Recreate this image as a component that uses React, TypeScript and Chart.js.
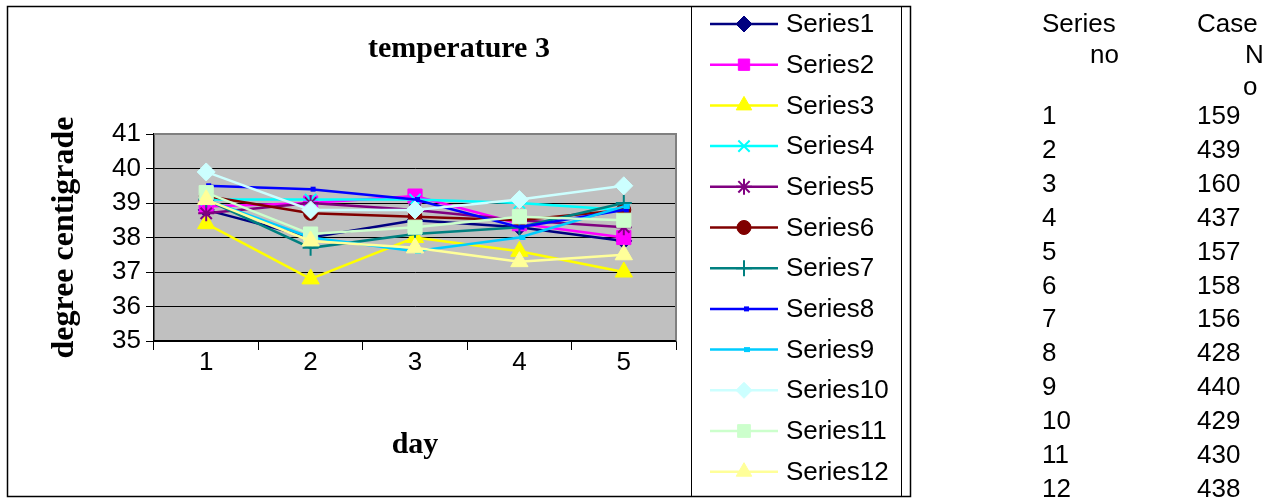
import React, { useEffect, useRef } from "react";
import { Chart, registerables } from "chart.js";
import { drawPoint } from "chart.js/helpers";

Chart.register(...registerables);

// ---------- data ----------
const days = ["1", "2", "3", "4", "5"];
const seriesNames = [
  "Series1", "Series2", "Series3", "Series4", "Series5", "Series6",
  "Series7", "Series8", "Series9", "Series10", "Series11", "Series12",
];
const series1 = [38.8, 38.0, 38.5, 38.3, 37.9];
const series2 = [38.9, 39.0, 39.2, 38.4, 38.0];
const series3 = [38.4, 36.8, 38.0, 37.6, 37.0];
const series4 = [39.1, 39.1, 39.1, 39.0, 38.8];
const series5 = [38.7, 39.0, 38.8, 38.5, 38.3];
const series6 = [39.2, 38.7, 38.6, 38.5, 38.8];
const series7 = [39.1, 37.7, 38.1, 38.3, 39.0];
const series8 = [39.5, 39.4, 39.1, 38.3, 38.8];
const series9 = [39.1, 38.0, 37.6, 38.0, 38.9];
const series10 = [39.9, 38.8, 38.8, 39.1, 39.5];
const series11 = [39.3, 38.1, 38.3, 38.6, 38.5];
const series12 = [39.1, 37.9, 37.7, 37.3, 37.5];
const allSeries = [
  series1, series2, series3, series4, series5, series6,
  series7, series8, series9, series10, series11, series12,
];
const yMin = 35;
const yMax = 41;
const yStep = 1;

const chartTitle = "temperature 3";
const xTitle = "day";
const yTitle = "degree centigrade";

const tableHeadSeries = ["Series", "no"];
const tableHeadCase = ["Case", "N", "o"];
const tableSeriesNo = ["1", "2", "3", "4", "5", "6", "7", "8", "9", "10", "11", "12"];
const tableCaseNo = ["159", "439", "160", "437", "157", "158", "156", "428", "440", "429", "430", "438"];

// ---------- styles ----------
const colors = [
  "#000080", "#FF00FF", "#FFFF00", "#00FFFF", "#800080", "#800000",
  "#008080", "#0000FF", "#00CCFF", "#CCFFFF", "#CCFFCC", "#FFFF99",
];
const markers: any[] = [
  "rectRot", "rect", "triangle", "crossRot", "star", "circle",
  "cross", "dash", "dash", "rectRot", "rect", "triangle",
];
const markerRadius = [8, 10, 10, 8, 8, 7, 8, 5, 6, 9, 10, 10];
const markerBorder = [1, 1, 1, 2, 2, 1, 2, 5, 5, 1, 1, 1];
const legendRadius = [8, 8, 9, 8, 8, 7, 8, 5, 6, 8, 9, 9];
const legendBorder = [1, 1, 1, 2, 2, 1, 2, 5, 5, 1, 1, 1];

const SANS = "'Liberation Sans', Arial, sans-serif";
const SERIF = "'Liberation Serif', 'Times New Roman', serif";

const W = 1277;
const H = 502;
const PLOT_L = 154;
const PLOT_R = 676;
const PLOT_T = 134;
const PLOT_B = 341;
const PAD_B = 31;

const framePlugin = {
  id: "excelFrame",
  beforeDraw(chart: any) {
    const { ctx, chartArea: a } = chart;
    ctx.save();
    ctx.fillStyle = "#FFFFFF";
    ctx.fillRect(0, 0, chart.width, chart.height);
    // outer chart frame
    ctx.strokeStyle = "#000000";
    ctx.lineWidth = 1.5;
    ctx.strokeRect(7.5, 6.5, 903, 490);
    // legend frame
    ctx.lineWidth = 1;
    ctx.strokeRect(691.5, 6.5, 210, 490);
    // plot background
    ctx.fillStyle = "#C0C0C0";
    ctx.fillRect(a.left, a.top, a.right - a.left, a.bottom - a.top);
    ctx.restore();
  },
  beforeDatasetsDraw(chart: any) {
    const { ctx, chartArea: a } = chart;
    ctx.save();
    ctx.strokeStyle = "#808080";
    ctx.lineWidth = 2;
    ctx.beginPath();
    ctx.moveTo(a.left, a.top);
    ctx.lineTo(a.right, a.top);
    ctx.lineTo(a.right, a.bottom);
    ctx.stroke();
    ctx.strokeStyle = "#000000";
    ctx.lineWidth = 1.5;
    ctx.beginPath();
    ctx.moveTo(a.left, a.bottom);
    ctx.lineTo(a.right, a.bottom);
    ctx.stroke();
    ctx.restore();
  },
  afterDraw(chart: any) {
    const { ctx } = chart;
    ctx.save();
    // chart title
    ctx.fillStyle = "#000000";
    ctx.font = `bold 30px ${SERIF}`;
    ctx.textAlign = "center";
    ctx.textBaseline = "alphabetic";
    ctx.fillText(chartTitle, 459, 57);
    // legend
    ctx.textAlign = "left";
    ctx.textBaseline = "middle";
    ctx.font = `26px ${SANS}`;
    for (let i = 0; i < seriesNames.length; i++) {
      const y = 24 + i * 40.7;
      ctx.strokeStyle = colors[i];
      ctx.fillStyle = colors[i];
      ctx.lineWidth = 2.5;
      ctx.beginPath();
      ctx.moveTo(710, y);
      ctx.lineTo(778, y);
      ctx.stroke();
      ctx.lineWidth = legendBorder[i];
      drawPoint(ctx, {
        pointStyle: markers[i],
        radius: legendRadius[i],
        borderWidth: legendBorder[i],
        rotation: 0,
      } as any, 744, y);
      ctx.fillStyle = "#000000";
      ctx.fillText(seriesNames[i], 786, y + 1);
    }
    ctx.restore();
  },
};

export default function App() {
  const canvasRef = useRef<HTMLCanvasElement | null>(null);

  useEffect(() => {
    if (!canvasRef.current) return;
    const datasets = allSeries.map((values, i) => ({
      label: seriesNames[i],
      data: values,
      borderColor: colors[i],
      backgroundColor: colors[i],
      borderWidth: 2.5,
      pointStyle: markers[i],
      pointRadius: markerRadius[i],
      pointBorderWidth: markerBorder[i],
      pointBackgroundColor: colors[i],
      pointBorderColor: colors[i],
      tension: 0,
      fill: false,
      order: seriesNames.length - i,
    }));
    const chart = new Chart(canvasRef.current, {
      type: "line",
      data: { labels: days, datasets },
      options: {
        animation: false,
        responsive: false,
        devicePixelRatio: 1,
        events: [],
        layout: {
          padding: { left: 0, right: W - PLOT_R, top: PLOT_T, bottom: PAD_B },
        },
        plugins: {
          legend: { display: false },
          title: { display: false },
          tooltip: { enabled: false },
        },
        scales: {
          x: {
            type: "category",
            offset: true,
            afterFit(scale: any) {
              scale.height = H - PAD_B - PLOT_B;
            },
            grid: {
              display: true,
              offset: true,
              drawOnChartArea: false,
              drawTicks: true,
              tickLength: 9,
              color: "#000000",
              lineWidth: 1,
            },
            border: { display: true, color: "#000000", width: 1.5 },
            ticks: {
              color: "#000000",
              font: { family: SANS, size: 26 },
              padding: -3,
              maxRotation: 0,
            },
            title: {
              display: true,
              text: xTitle,
              color: "#000000",
              font: { family: SERIF, size: 30, weight: "bold" },
              padding: { top: 0, bottom: 8 },
            },
          },
          y: {
            min: yMin,
            max: yMax,
            afterFit(scale: any) {
              scale.width = PLOT_L;
            },
            grid: {
              color: "#000000",
              lineWidth: 1,
              drawTicks: true,
              tickLength: 8,
            },
            border: { display: true, color: "#000000", width: 1.5 },
            ticks: {
              stepSize: yStep,
              color: "#000000",
              font: { family: SANS, size: 26 },
              padding: 5,
            },
            title: {
              display: true,
              text: yTitle,
              color: "#000000",
              font: { family: SERIF, size: 32, weight: "bold" },
              padding: { top: 46, bottom: 0 },
            },
          },
        },
      },
      plugins: [framePlugin],
    });
    return () => chart.destroy();
  }, []);

  const cellStyle = (left: number, centerY: number, align: "left" | "right" = "left"): React.CSSProperties => ({
    position: "absolute",
    left: align === "left" ? left : undefined,
    right: align === "right" ? W - left : undefined,
    top: centerY - 15,
    height: 30,
    lineHeight: "30px",
    fontFamily: SANS,
    fontSize: 26,
    color: "#000",
    whiteSpace: "nowrap",
  });

  return (
    <div style={{ position: "fixed", left: 0, top: 0, width: W, height: H, background: "#fff", overflow: "hidden" }}>
      <canvas ref={canvasRef} width={W} height={H} style={{ position: "absolute", left: 0, top: 0, width: W, height: H }} />
      <span style={cellStyle(1042, 23)}>{tableHeadSeries[0]}</span>
      <span style={cellStyle(1119, 54, "right")}>{tableHeadSeries[1]}</span>
      <span style={cellStyle(1197, 23)}>{tableHeadCase[0]}</span>
      <span style={cellStyle(1245, 54)}>{tableHeadCase[1]}</span>
      <span style={cellStyle(1243, 86)}>{tableHeadCase[2]}</span>
      {tableSeriesNo.map((s, i) => (
        <span key={"s" + i} style={cellStyle(1042, 115 + i * 33.9)}>{s}</span>
      ))}
      {tableCaseNo.map((c, i) => (
        <span key={"c" + i} style={cellStyle(1197, 115 + i * 33.9)}>{c}</span>
      ))}
    </div>
  );
}
